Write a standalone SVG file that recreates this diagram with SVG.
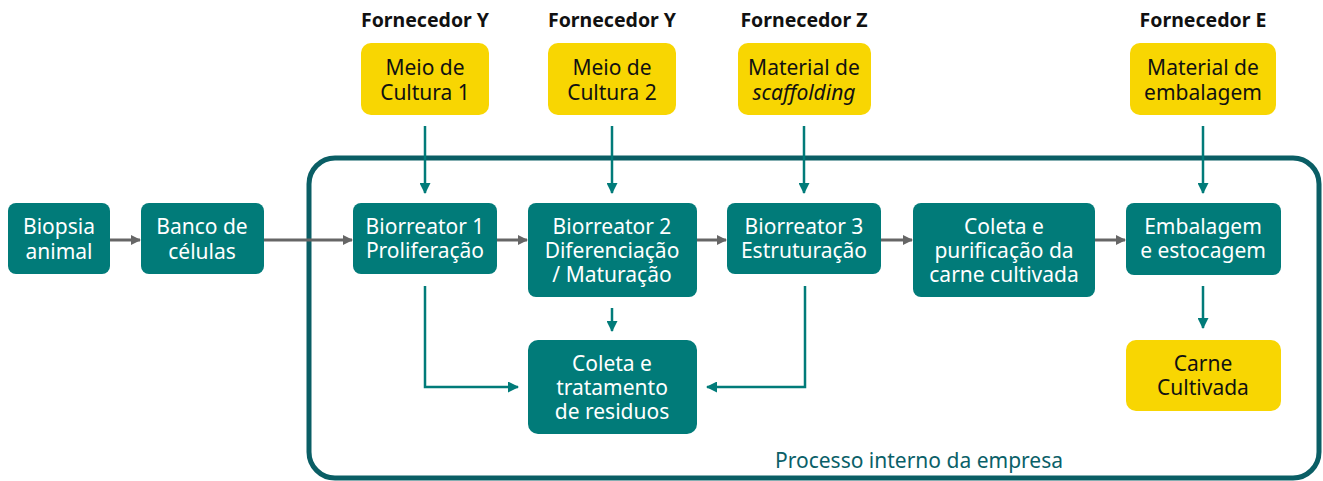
<svg xmlns="http://www.w3.org/2000/svg" width="1323" height="481" viewBox="0 0 1323 481">
<style>
.t{fill:#017b79}
.y{fill:#f8d602}
.tx{font-family:"Noto Sans",sans-serif;font-size:21px;text-anchor:middle}
.w{fill:#fff}
.k{fill:#111}
.h{font-family:"Noto Sans",sans-serif;font-size:19.5px;font-weight:bold;text-anchor:middle;fill:#111}
.g{stroke:#666;stroke-width:3;fill:none}
.c{stroke:#017b79;stroke-width:2.5;fill:none}
</style>
<defs>
<marker id="ag" markerWidth="10" markerHeight="10" refX="9" refY="5" orient="auto" markerUnits="userSpaceOnUse" viewBox="0 0 10 10"><path d="M0,0 L10,5 L0,10 z" fill="#666"/></marker>
<marker id="at" markerWidth="11" markerHeight="11" refX="10" refY="5.5" orient="auto" markerUnits="userSpaceOnUse" viewBox="0 0 11 11"><path d="M0,0 L11,5.5 L0,11 z" fill="#017b79"/></marker>
</defs>
<g id="container">
<rect x="309" y="158" width="1010" height="320" rx="26" fill="none" stroke="#0a5e65" stroke-width="5"/>
<text x="919" y="468" font-family="Noto Sans,sans-serif" font-size="21" text-anchor="middle" fill="#0a6068">Processo interno da empresa</text>
</g>
<g id="suppliers-labels">
<text class="h" x="425" y="27">Fornecedor Y</text>
<text class="h" x="612" y="27">Fornecedor Y</text>
<text class="h" x="804" y="27">Fornecedor Z</text>
<text class="h" x="1203" y="27">Fornecedor E</text>
</g>
<g id="meio1"><rect class="y" x="361" y="43" width="128" height="72" rx="10"/><text class="tx k" x="425" y="75">Meio de</text><text class="tx k" x="425" y="100">Cultura 1</text></g>
<g id="meio2"><rect class="y" x="548" y="43" width="128" height="72" rx="10"/><text class="tx k" x="612" y="75">Meio de</text><text class="tx k" x="612" y="100">Cultura 2</text></g>
<g id="scaffold"><rect class="y" x="738" y="43" width="133" height="72" rx="10"/><text class="tx k" x="804" y="75">Material de</text><text class="tx k" x="804" y="100" font-style="italic">scaffolding</text></g>
<g id="embmat"><rect class="y" x="1130" y="43" width="146" height="72" rx="10"/><text class="tx k" x="1203" y="75">Material de</text><text class="tx k" x="1203" y="100">embalagem</text></g>
<g id="biopsia"><rect class="t" x="8" y="203" width="102" height="71" rx="8"/><text class="tx w" x="59" y="234">Biopsia</text><text class="tx w" x="59" y="259">animal</text></g>
<g id="banco"><rect class="t" x="141" y="203" width="123" height="71" rx="8"/><text class="tx w" x="202" y="234">Banco de</text><text class="tx w" x="202" y="259">células</text></g>
<g id="bio1"><rect class="t" x="353" y="203" width="144" height="71" rx="8"/><text class="tx w" x="425" y="234">Biorreator 1</text><text class="tx w" x="425" y="258">Proliferação</text></g>
<g id="bio2"><rect class="t" x="528" y="203" width="169" height="94" rx="8"/><text class="tx w" x="612" y="234">Biorreator 2</text><text class="tx w" x="612" y="258">Diferenciação</text><text class="tx w" x="612" y="282">/ Maturação</text></g>
<g id="bio3"><rect class="t" x="727" y="203" width="154" height="71" rx="8"/><text class="tx w" x="804" y="234">Biorreator 3</text><text class="tx w" x="804" y="258">Estruturação</text></g>
<g id="coleta"><rect class="t" x="913" y="203" width="182" height="94" rx="8"/><text class="tx w" x="1004" y="234">Coleta e</text><text class="tx w" x="1004" y="258">purificação da</text><text class="tx w" x="1004" y="282">carne cultivada</text></g>
<g id="embalagem"><rect class="t" x="1126" y="203" width="155" height="72" rx="8"/><text class="tx w" x="1203" y="234">Embalagem</text><text class="tx w" x="1203" y="258">e estocagem</text></g>
<g id="residuos"><rect class="t" x="528" y="340" width="169" height="94" rx="10"/><text class="tx w" x="612" y="371">Coleta e</text><text class="tx w" x="612" y="395">tratamento</text><text class="tx w" x="612" y="419">de residuos</text></g>
<g id="carne"><rect class="y" x="1126" y="340" width="155" height="71" rx="10"/><text class="tx k" x="1203" y="371">Carne</text><text class="tx k" x="1203" y="395">Cultivada</text></g>
<g id="connectors">
<line class="g" x1="110" y1="240" x2="140" y2="240" marker-end="url(#ag)"/>
<line class="g" x1="264" y1="240" x2="352" y2="240" marker-end="url(#ag)"/>
<line class="g" x1="497" y1="240" x2="527" y2="240" marker-end="url(#ag)"/>
<line class="g" x1="697" y1="240" x2="726" y2="240" marker-end="url(#ag)"/>
<line class="g" x1="881" y1="240" x2="912" y2="240" marker-end="url(#ag)"/>
<line class="g" x1="1095" y1="240" x2="1125" y2="240" marker-end="url(#ag)"/>
<line class="c" x1="425" y1="126" x2="425" y2="193" marker-end="url(#at)"/>
<line class="c" x1="612" y1="126" x2="612" y2="193" marker-end="url(#at)"/>
<line class="c" x1="804" y1="126" x2="804" y2="193" marker-end="url(#at)"/>
<line class="c" x1="1203" y1="126" x2="1203" y2="193" marker-end="url(#at)"/>
<line class="c" x1="612" y1="308" x2="612" y2="331" marker-end="url(#at)"/>
<line class="c" x1="1203" y1="286" x2="1203" y2="328" marker-end="url(#at)"/>
<polyline class="c" points="425,286 425,387 518,387" marker-end="url(#at)"/>
<polyline class="c" points="805,286 805,387 707,387" marker-end="url(#at)"/>
</g>
</svg>
